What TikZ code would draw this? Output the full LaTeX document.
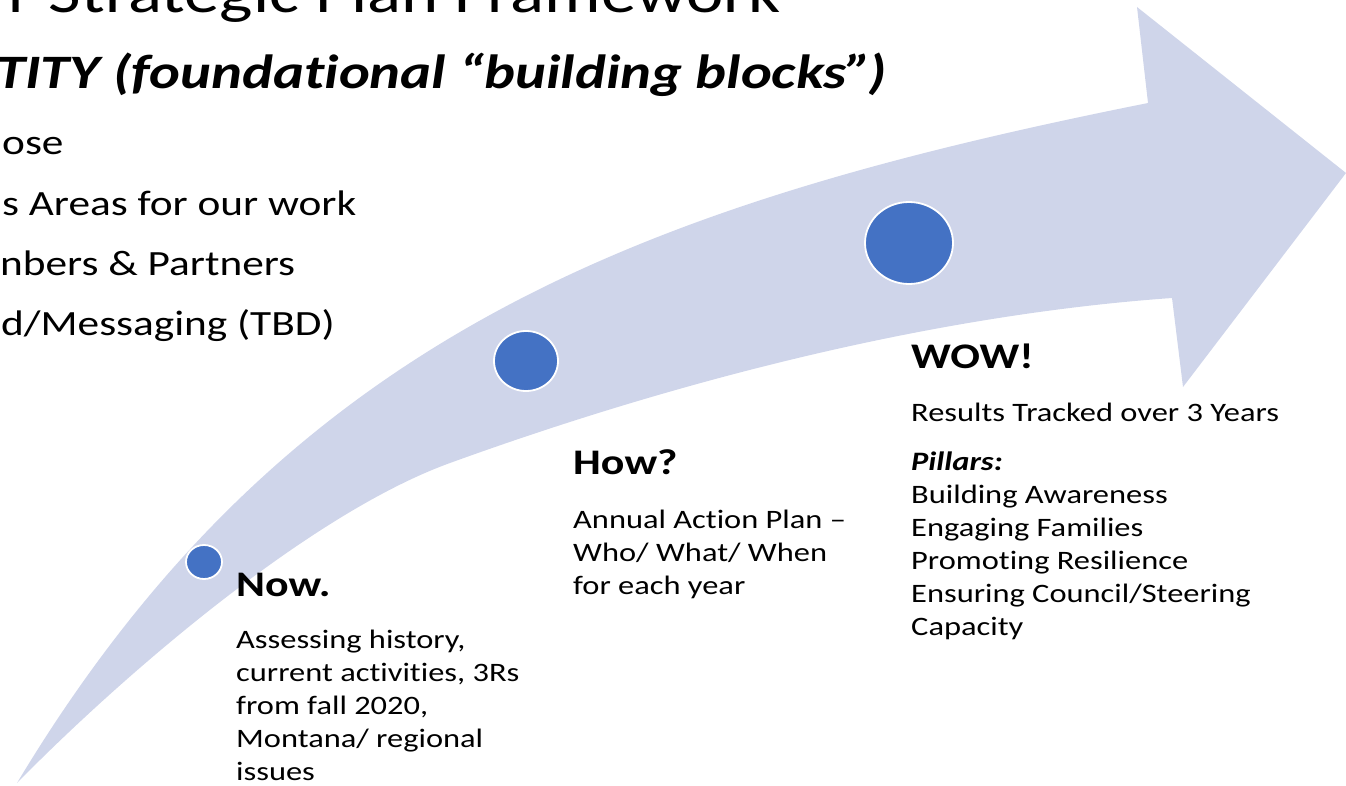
\documentclass[tikz,border=0pt]{standalone}
\usepackage{fontspec}
\setmainfont{Carlito}[FakeStretch=1.22, Ligatures=NoCommon]
\usetikzlibrary{shapes.geometric}
\definecolor{arrowfill}{HTML}{CFD5EA}
\definecolor{dotblue}{HTML}{4472C4}
\begin{document}
\begin{tikzpicture}[x=1pt,y=-1pt,
  dot/.style={ellipse, fill=dotblue, draw=white, line width=1.8pt, inner sep=0pt},
  headtxt/.style={anchor=base west, inner sep=0pt, font=\fontsize{36}{40}\selectfont\bfseries},
  bodytxt/.style={anchor=base west, inner sep=0pt, align=left, font=\fontsize{26.6}{33}\selectfont},
  bullettxt/.style={anchor=base west, inner sep=0pt, font=\fontsize{35.5}{46}\selectfont}]
\useasboundingbox (0,0) rectangle (1346,786);
\clip (0,0) rectangle (1346,786);
% curved arrow
\fill[arrowfill] (17,783)
  .. controls (285,337) and (638,205) .. (1148,103)
  -- (1137,7) -- (1346,173) -- (1183,387) -- (1172,298)
  .. controls (932,315) and (676,381) .. (450,463)
  .. controls (309,514) and (122,676) .. (17,783)
  -- cycle;
% dots
\node[dot, minimum width=36pt, minimum height=34pt] (d1) at (204,562) {};
\node[dot, minimum width=64pt, minimum height=60pt] (d2) at (526,361) {};
\node[dot, minimum width=88pt, minimum height=82pt] (d3) at (909,243) {};
% header texts (cut at the edge)
\node[anchor=base west, inner sep=0pt, font=\fontsize{58}{64}\selectfont] (title) at (8,13) {r Strategic Plan Framework};
\node[anchor=base west, inner sep=0pt, font=\fontsize{48}{58}\selectfont\bfseries\itshape] (identity) at (-4,89) {TITY (foundational “building blocks”\kern-4pt)};
\node[bullettxt] (b1) at (2,155) {ose};
\node[bullettxt] (b2) at (2,216) {s Areas for our work};
\node[bullettxt] (b3) at (0,276) {nbers \& Partners};
\node[bullettxt] (b4) at (1,335) {d/Messaging (TBD)};
% stage texts
\node[headtxt] (now) at (236,596) {Now.};
\node[bodytxt] (nowtxt) at (236,780) {Assessing history,\\current activities, 3Rs\\from fall 2020,\\Montana/ regional\\issues};
\node[headtxt] (how) at (573,474) {How?};
\node[bodytxt] (howtxt) at (573,594) {Annual Action Plan –\\Who/ What/ When\\for each year};
\node[headtxt] (wow) at (911,368) {WOW!};
\node[bodytxt] (wowtxt) at (911,421) {Results Tracked over 3 Years};
\node[bodytxt] (pillars) at (911,635) {\textbf{\textit{Pillars:}}\\Building Awareness\\Engaging Families\\Promoting Resilience\\Ensuring Council/Steering\\Capacity};
\end{tikzpicture}
\end{document}
